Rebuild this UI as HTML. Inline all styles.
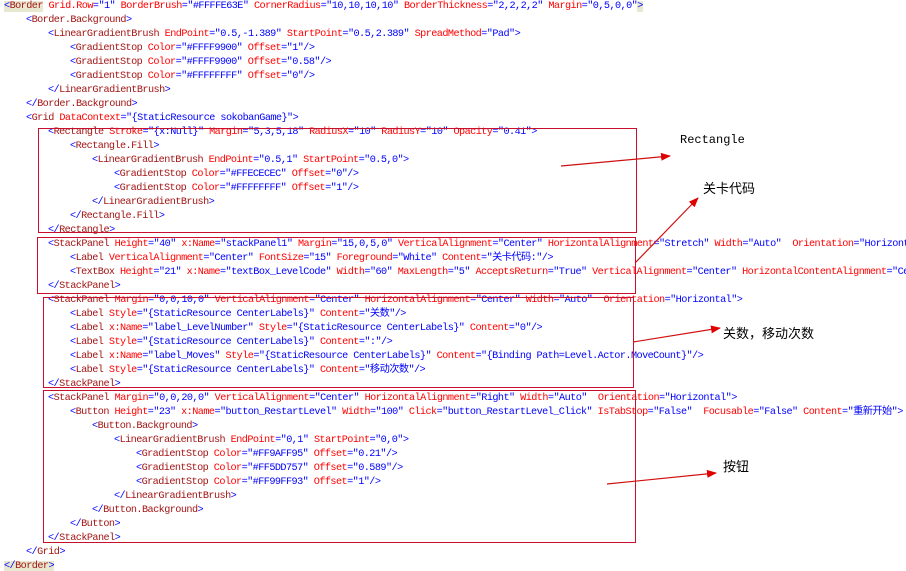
<!DOCTYPE html>
<html><head><meta charset="utf-8"><style>
html,body{margin:0;padding:0;background:#fff;width:906px;height:571px;overflow:hidden;position:relative}
.l{position:absolute;height:14px;line-height:14px;white-space:pre;font-family:"Liberation Mono","Noto Sans CJK SC",monospace;font-size:10.2px;letter-spacing:-0.56px;color:#0000ff}
.t{color:#a31515}.a{color:#ff0000}.v{color:#0000ff}
.hl{background:#e8e8d0}
.box{position:absolute;border:1px solid #c8102e}
.lab{position:absolute;font-family:"Liberation Mono","Noto Sans CJK SC",sans-serif;font-size:12px;color:#000;white-space:nowrap}
.cj{font-family:"Noto Sans CJK SC",sans-serif;font-size:13px}
</style></head><body>
<div class="l" style="left:4px;top:0px"><span class="hl">&lt;<span class="t">Border</span></span> <span class="a">Grid.Row</span>="1" <span class="a">BorderBrush</span>="#FFFFE63E" <span class="a">CornerRadius</span>="10,10,10,10" <span class="a">BorderThickness</span>="2,2,2,2" <span class="a">Margin</span>="0,5,0,0"<span class="hl">&gt;</span></div>
<div class="l" style="left:26px;top:14px">&lt;<span class="t">Border.Background</span>&gt;</div>
<div class="l" style="left:48px;top:28px">&lt;<span class="t">LinearGradientBrush</span> <span class="a">EndPoint</span>="0.5,-1.389" <span class="a">StartPoint</span>="0.5,2.389" <span class="a">SpreadMethod</span>="Pad"&gt;</div>
<div class="l" style="left:70px;top:42px">&lt;<span class="t">GradientStop</span> <span class="a">Color</span>="#FFFF9900" <span class="a">Offset</span>="1"/&gt;</div>
<div class="l" style="left:70px;top:56px">&lt;<span class="t">GradientStop</span> <span class="a">Color</span>="#FFFF9900" <span class="a">Offset</span>="0.58"/&gt;</div>
<div class="l" style="left:70px;top:70px">&lt;<span class="t">GradientStop</span> <span class="a">Color</span>="#FFFFFFFF" <span class="a">Offset</span>="0"/&gt;</div>
<div class="l" style="left:48px;top:84px">&lt;/<span class="t">LinearGradientBrush</span>&gt;</div>
<div class="l" style="left:26px;top:98px">&lt;/<span class="t">Border.Background</span>&gt;</div>
<div class="l" style="left:26px;top:112px">&lt;<span class="t">Grid</span> <span class="a">DataContext</span>="{StaticResource sokobanGame}"&gt;</div>
<div class="l" style="left:48px;top:126px">&lt;<span class="t">Rectangle</span> <span class="a">Stroke</span>="{x:Null}" <span class="a">Margin</span>="5,3,5,18" <span class="a">RadiusX</span>="10" <span class="a">RadiusY</span>="10" <span class="a">Opacity</span>="0.41"&gt;</div>
<div class="l" style="left:70px;top:140px">&lt;<span class="t">Rectangle.Fill</span>&gt;</div>
<div class="l" style="left:92px;top:154px">&lt;<span class="t">LinearGradientBrush</span> <span class="a">EndPoint</span>="0.5,1" <span class="a">StartPoint</span>="0.5,0"&gt;</div>
<div class="l" style="left:114px;top:168px">&lt;<span class="t">GradientStop</span> <span class="a">Color</span>="#FFECECEC" <span class="a">Offset</span>="0"/&gt;</div>
<div class="l" style="left:114px;top:182px">&lt;<span class="t">GradientStop</span> <span class="a">Color</span>="#FFFFFFFF" <span class="a">Offset</span>="1"/&gt;</div>
<div class="l" style="left:92px;top:196px">&lt;/<span class="t">LinearGradientBrush</span>&gt;</div>
<div class="l" style="left:70px;top:210px">&lt;/<span class="t">Rectangle.Fill</span>&gt;</div>
<div class="l" style="left:48px;top:224px">&lt;/<span class="t">Rectangle</span>&gt;</div>
<div class="l" style="left:48px;top:238px">&lt;<span class="t">StackPanel</span> <span class="a">Height</span>="40" <span class="a">x:Name</span>="stackPanel1" <span class="a">Margin</span>="15,0,5,0" <span class="a">VerticalAlignment</span>="Center" <span class="a">HorizontalAlignment</span>="Stretch" <span class="a">Width</span>="Auto"  <span class="a">Orientation</span>="Horizontal"&gt;</div>
<div class="l" style="left:70px;top:252px">&lt;<span class="t">Label</span> <span class="a">VerticalAlignment</span>="Center" <span class="a">FontSize</span>="15" <span class="a">Foreground</span>="White" <span class="a">Content</span>="关卡代码:"/&gt;</div>
<div class="l" style="left:70px;top:266px">&lt;<span class="t">TextBox</span> <span class="a">Height</span>="21" <span class="a">x:Name</span>="textBox_LevelCode" <span class="a">Width</span>="60" <span class="a">MaxLength</span>="5" <span class="a">AcceptsReturn</span>="True" <span class="a">VerticalAlignment</span>="Center" <span class="a">HorizontalContentAlignment</span>="Center"/&gt;</div>
<div class="l" style="left:48px;top:280px">&lt;/<span class="t">StackPanel</span>&gt;</div>
<div class="l" style="left:48px;top:294px">&lt;<span class="t">StackPanel</span> <span class="a">Margin</span>="0,0,10,0" <span class="a">VerticalAlignment</span>="Center" <span class="a">HorizontalAlignment</span>="Center" <span class="a">Width</span>="Auto"  <span class="a">Orientation</span>="Horizontal"&gt;</div>
<div class="l" style="left:70px;top:308px">&lt;<span class="t">Label</span> <span class="a">Style</span>="{StaticResource CenterLabels}" <span class="a">Content</span>="关数"/&gt;</div>
<div class="l" style="left:70px;top:322px">&lt;<span class="t">Label</span> <span class="a">x:Name</span>="label_LevelNumber" <span class="a">Style</span>="{StaticResource CenterLabels}" <span class="a">Content</span>="0"/&gt;</div>
<div class="l" style="left:70px;top:336px">&lt;<span class="t">Label</span> <span class="a">Style</span>="{StaticResource CenterLabels}" <span class="a">Content</span>=":"/&gt;</div>
<div class="l" style="left:70px;top:350px">&lt;<span class="t">Label</span> <span class="a">x:Name</span>="label_Moves" <span class="a">Style</span>="{StaticResource CenterLabels}" <span class="a">Content</span>="{Binding Path=Level.Actor.MoveCount}"/&gt;</div>
<div class="l" style="left:70px;top:364px">&lt;<span class="t">Label</span> <span class="a">Style</span>="{StaticResource CenterLabels}" <span class="a">Content</span>="移动次数"/&gt;</div>
<div class="l" style="left:48px;top:378px">&lt;/<span class="t">StackPanel</span>&gt;</div>
<div class="l" style="left:48px;top:392px">&lt;<span class="t">StackPanel</span> <span class="a">Margin</span>="0,0,20,0" <span class="a">VerticalAlignment</span>="Center" <span class="a">HorizontalAlignment</span>="Right" <span class="a">Width</span>="Auto"  <span class="a">Orientation</span>="Horizontal"&gt;</div>
<div class="l" style="left:70px;top:406px">&lt;<span class="t">Button</span> <span class="a">Height</span>="23" <span class="a">x:Name</span>="button_RestartLevel" <span class="a">Width</span>="100" <span class="a">Click</span>="button_RestartLevel_Click" <span class="a">IsTabStop</span>="False"  <span class="a">Focusable</span>="False" <span class="a">Content</span>="重新开始"&gt;</div>
<div class="l" style="left:92px;top:420px">&lt;<span class="t">Button.Background</span>&gt;</div>
<div class="l" style="left:114px;top:434px">&lt;<span class="t">LinearGradientBrush</span> <span class="a">EndPoint</span>="0,1" <span class="a">StartPoint</span>="0,0"&gt;</div>
<div class="l" style="left:136px;top:448px">&lt;<span class="t">GradientStop</span> <span class="a">Color</span>="#FF9AFF95" <span class="a">Offset</span>="0.21"/&gt;</div>
<div class="l" style="left:136px;top:462px">&lt;<span class="t">GradientStop</span> <span class="a">Color</span>="#FF5DD757" <span class="a">Offset</span>="0.589"/&gt;</div>
<div class="l" style="left:136px;top:476px">&lt;<span class="t">GradientStop</span> <span class="a">Color</span>="#FF99FF93" <span class="a">Offset</span>="1"/&gt;</div>
<div class="l" style="left:114px;top:490px">&lt;/<span class="t">LinearGradientBrush</span>&gt;</div>
<div class="l" style="left:92px;top:504px">&lt;/<span class="t">Button.Background</span>&gt;</div>
<div class="l" style="left:70px;top:518px">&lt;/<span class="t">Button</span>&gt;</div>
<div class="l" style="left:48px;top:532px">&lt;/<span class="t">StackPanel</span>&gt;</div>
<div class="l" style="left:26px;top:546px">&lt;/<span class="t">Grid</span>&gt;</div>
<div class="l" style="left:4px;top:560px"><span class="hl">&lt;/<span class="t">Border</span>&gt;</span></div>

<div class="box" style="left:38px;top:128px;width:597px;height:103px"></div>
<div class="box" style="left:37px;top:237px;width:597px;height:55px"></div>
<div class="box" style="left:43px;top:297px;width:589px;height:89px"></div>
<div class="box" style="left:43px;top:390px;width:591px;height:151px"></div>

<svg style="position:absolute;left:0;top:0" width="906" height="571">
<defs><marker id="ar" markerWidth="10" markerHeight="8" refX="9" refY="4" orient="auto" markerUnits="userSpaceOnUse"><path d="M0,0 L10,4 L0,8 z" fill="#e00000"/></marker></defs>
<g stroke="#d01010" stroke-width="1.2" fill="none" marker-end="url(#ar)">
<line x1="561" y1="166" x2="670" y2="156"/>
<line x1="635" y1="263" x2="698" y2="198"/>
<line x1="633" y1="342" x2="720" y2="328"/>
<line x1="607" y1="484" x2="716" y2="473"/>
</g></svg>
<div class="lab" style="left:680px;top:133px">Rectangle</div>
<div class="lab cj" style="left:703px;top:178px">关卡代码</div>
<div class="lab cj" style="left:723px;top:323px">关数，移动次数</div>
<div class="lab cj" style="left:723px;top:456px">按钮</div>
</body></html>
